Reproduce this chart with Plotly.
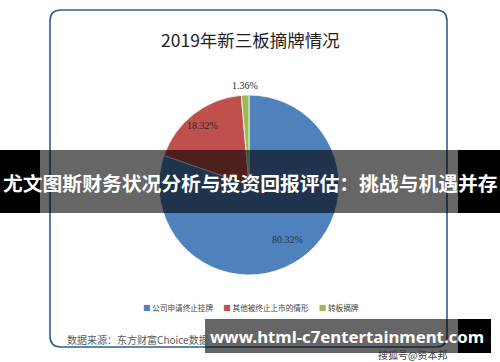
import math
import plotly.graph_objects as go

categories = ["公司申请终止挂牌", "其他被终止上市的情形", "转板摘牌"]
values = [80.32, 18.32, 1.36]
colors = ["#4f81bd", "#c0504d", "#9bbb59"]
label_colors = ["#1c3458", "#2b2b2b", "#2b2b2b"]
title_text = "2019年新三板摘牌情况"
source_text = "数据来源：东方财富Choice数据"
banner_text = "尤文图斯财务状况分析与投资回报评估：挑战与机遇并存"
site_text = "www.html-c7entertainment.com"
sohu_text = "搜狐号@资本邦"

W, H = 500, 362
CX, CY, R = 249, 185, 90          # pie centre and radius in pixels
LABEL_R = [0.74, 0.84, 1.11]      # label distance as fraction of radius


def px(x):
    return x / W


def py(y):
    return 1 - y / H


fig = go.Figure()
fig.add_trace(go.Pie(
    labels=categories,
    values=values,
    sort=False,
    direction="clockwise",
    rotation=0,
    marker=dict(colors=colors, line=dict(color="white", width=0.8)),
    textinfo="none",
    domain=dict(x=[px(CX - R), px(CX + R)], y=[py(CY + R), py(CY - R)]),
    showlegend=False,
    hoverinfo="label+percent",
))

# slice labels placed on each slice's bisector, computed from the values
annotations = []
total = sum(values)
cum = 0.0
for v, lc, fr in zip(values, label_colors, LABEL_R):
    mid = (cum + v / 2) / total * 2 * math.pi
    cum += v
    lx = CX + math.sin(mid) * R * fr
    ly = CY - math.cos(mid) * R * fr
    annotations.append(dict(text=f"{v:.2f}%", x=px(lx), y=py(ly), xref="paper", yref="paper",
                            showarrow=False, xanchor="center", yanchor="middle",
                            font=dict(family="Liberation Serif", size=10, color=lc)))

# rounded border
l, t, r, b, rad = 50, 10, 447, 347, 11
path = (
    f"M {px(l + rad)} {py(t)} L {px(r - rad)} {py(t)} Q {px(r)} {py(t)} {px(r)} {py(t + rad)} "
    f"L {px(r)} {py(b - rad)} Q {px(r)} {py(b)} {px(r - rad)} {py(b)} "
    f"L {px(l + rad)} {py(b)} Q {px(l)} {py(b)} {px(l)} {py(b - rad)} "
    f"L {px(l)} {py(t + rad)} Q {px(l)} {py(t)} {px(l + rad)} {py(t)} Z"
)
shapes = [
    dict(type="path", path=path, xref="paper", yref="paper",
         line=dict(color="#2f5f8e", width=1.6), fillcolor="rgba(0,0,0,0)", layer="below"),
    # banner
    dict(type="rect", xref="paper", yref="paper", x0=px(0), x1=px(40), y0=py(213), y1=py(150),
         fillcolor="black", line=dict(width=0), layer="above"),
    dict(type="rect", xref="paper", yref="paper", x0=px(40), x1=px(458), y0=py(213), y1=py(150),
         fillcolor="rgba(0,0,0,0.6)", line=dict(width=0), layer="above"),
    dict(type="rect", xref="paper", yref="paper", x0=px(458), x1=px(500), y0=py(213), y1=py(150),
         fillcolor="black", line=dict(width=0), layer="above"),
    # site band
    dict(type="rect", xref="paper", yref="paper", x0=px(205), x1=px(458), y0=py(353), y1=py(319),
         fillcolor="rgba(0,0,0,0.6)", line=dict(width=0), layer="above"),
    dict(type="rect", xref="paper", yref="paper", x0=px(458), x1=px(491), y0=py(353), y1=py(319),
         fillcolor="black", line=dict(width=0), layer="above"),
]

legend_parts = []
for c, col in zip(categories, colors):
    legend_parts.append(f"<span style='color:{col}'>■</span> {c}")
legend_html = "&nbsp;&nbsp;&nbsp;&nbsp;&nbsp;&nbsp;".join(legend_parts)

annotations += [
    dict(text=title_text, x=px(250), y=py(40), xref="paper", yref="paper", showarrow=False,
         font=dict(family="Noto Sans CJK SC", size=17.5, color="#1e1e1e"), xanchor="center", yanchor="middle"),
    dict(text=legend_html, x=px(251), y=py(307), xref="paper", yref="paper", showarrow=False,
         font=dict(family="Noto Sans CJK SC", size=7.6, color="#444444"), xanchor="center", yanchor="middle"),
    dict(text=source_text, x=px(65), y=py(339), xref="paper", yref="paper", showarrow=False,
         font=dict(family="Noto Sans CJK SC", size=10, color="#5a5a5a"), xanchor="left", yanchor="middle"),
    dict(text=sohu_text, x=px(412), y=py(354), xref="paper", yref="paper", showarrow=False,
         font=dict(family="Noto Sans CJK SC", size=10, color="#3a3a3a"), xanchor="center", yanchor="middle"),
    dict(text=banner_text, x=px(250), y=py(182), xref="paper", yref="paper", showarrow=False,
         font=dict(family="Noto Sans CJK SC", size=19.8, color="white", weight="bold"), xanchor="center", yanchor="middle"),
    dict(text=site_text, x=px(347), y=py(336), xref="paper", yref="paper", showarrow=False,
         font=dict(family="Noto Sans", size=16.8, color="white", weight="bold"), xanchor="center", yanchor="middle"),
]

fig.update_layout(
    width=W, height=H,
    margin=dict(l=0, r=0, t=0, b=0),
    paper_bgcolor="white",
    plot_bgcolor="white",
    shapes=shapes,
    annotations=annotations,
)

fig.write_html("out.html", config={"displayModeBar": False},
               post_script="document.body.style.margin='0';document.body.style.overflow='hidden';")
